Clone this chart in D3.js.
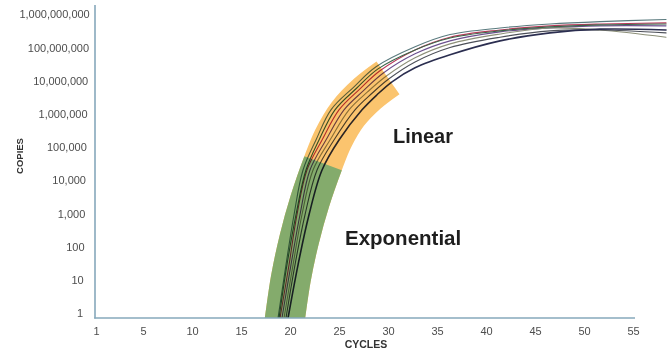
<!DOCTYPE html>
<html>
<head>
<meta charset="utf-8">
<script src="https://cdn.jsdelivr.net/npm/d3@7"></script>
<style>
  html, body { margin: 0; padding: 0; background: #fff; }
  svg { display: block; }
  text { font-family: "Liberation Sans", Arial, Helvetica, sans-serif; }
</style>
</head>
<body>
<svg id="chart" width="669" height="352"></svg>
<script>
// Axis ticks
const cycleTicks = [1, 5, 10, 15, 20, 25, 30, 35, 40, 45, 50, 55];
const copyTicks = [1, 10, 100, 1e3, 1e4, 1e5, 1e6, 1e7, 1e8, 1e9];

// Amplification runs: [cycle, copies]
const run1 = [[18.78,0.7],[19.59,28],[20.41,900],[21.33,2.0e4],[22.65,1.6e5],[24.18,1.3e6],[26.48,6.2e6],[28.78,2.57e7],[32.76,1.03e8],[36.33,2.4e8],[41.43,3.8e8],[46.53,5.0e8],[51.63,5.9e8],[58.37,6.8e8]];
const run2 = [[18.98,0.7],[19.90,28],[20.71,900],[21.73,2.0e4],[23.27,1.6e5],[25.00,1.3e6],[27.09,5.4e6],[29.18,1.95e7],[32.76,8.3e7],[36.33,2.0e8],[41.43,3.3e8],[46.53,4.4e8],[51.63,5.0e8],[58.37,5.4e8]];
const run3 = [[19.18,0.7],[20.10,28],[21.02,900],[22.04,2.0e4],[23.67,1.6e5],[25.51,1.3e6],[27.50,4.9e6],[29.49,1.64e7],[32.76,6.3e7],[36.33,1.55e8],[41.43,2.9e8],[46.53,3.8e8],[51.63,4.4e8],[58.37,4.4e8]];
const run4 = [[19.39,0.7],[20.31,28],[21.22,900],[22.35,2.0e4],[24.08,1.6e5],[26.02,1.3e6],[27.91,4.5e6],[29.80,1.33e7],[32.76,4.8e7],[36.33,1.26e8],[41.43,2.5e8],[46.53,3.8e8],[51.63,3.3e8],[58.37,2.0e8]];
const run5 = [[19.59,0.7],[20.51,28],[21.53,900],[22.76,2.0e4],[24.49,1.6e5],[26.63,1.3e6],[28.37,4.1e6],[30.10,1.12e7],[32.76,3.6e7],[36.33,9.8e7],[41.43,2.0e8],[46.53,3.1e8],[51.63,3.3e8],[58.37,2.7e8]];
const run6 = [[19.80,0.7],[20.82,28],[21.94,900],[23.27,2.0e4],[25.00,1.6e5],[27.35,1.3e6],[28.88,3.7e6],[30.41,9.1e6],[32.76,2.4e7],[36.33,5.9e7],[41.43,1.55e8],[46.53,2.7e8],[51.63,3.5e8],[58.37,3.3e8]];
const run7 = [[18.88,0.7],[19.69,28],[20.61,900],[21.63,2.0e4],[22.96,1.6e5],[24.59,1.3e6],[26.79,5.8e6],[28.98,2.23e7],[32.76,8.3e7],[36.33,1.9e8],[41.43,3.1e8],[46.53,4.1e8],[51.63,4.7e8],[58.37,5.0e8]];

const runs = [run1, run2, run3, run4, run5, run6, run7];
const runColors = ["#5a7a7e", "#b8395a", "#6b4f8e", "#8c8f78", "#4d5059", "#2b2e50", "#3a6448"];
const runWidths = [1.1, 1.1, 1.1, 1.1, 1.1, 1.6, 1.1];

// Phase band centre line: [cycle, copies]; split into exponential / linear
const phaseBand = [[19.32,0.31],[19.49,0.71],[20.09,10.9],[20.94,163],[22.03,2.33e3],[23.37,3.18e4],[24.39,1.74e5],[25.92,9.9e5],[27.86,3.95e6],[30.0,1.2e7]];
const phaseSplit = 3.18e4;
const phaseColors = { exponential: "#84ab6c", linear: "#fbc46e" };

const svg = d3.select("#chart");

const x = d3.scaleLinear().domain([1, 5, 55]).range([96, 143, 633]);
const y = d3.scaleLog().domain([0.7, 1e9]).range([318, 14]);

svg.append("defs").append("clipPath").attr("id", "plot")
  .append("rect").attr("x", 95).attr("y", 0).attr("width", 574).attr("height", 318);

const line = d3.line()
  .x(d => x(d[0]))
  .y(d => y(d[1]))
  .curve(d3.curveCatmullRom.alpha(0.5));

// Runs
const runsG = svg.append("g").attr("clip-path", "url(#plot)");
runsG.selectAll("path")
  .data(runs)
  .join("path")
  .attr("d", line)
  .attr("fill", "none")
  .attr("stroke", (d, i) => runColors[i])
  .attr("stroke-width", (d, i) => runWidths[i])
  .attr("stroke-linecap", "round");

// Phase bands, multiplied over the runs
const bandG = svg.append("g")
  .attr("clip-path", "url(#plot)")
  .style("mix-blend-mode", "multiply");

const linearBand = bandG.append("path")
  .attr("d", line(phaseBand))
  .attr("fill", "none")
  .attr("stroke", phaseColors.linear)
  .attr("stroke-width", 40)
  .attr("stroke-linecap", "butt");

const expBand = bandG.append("path")
  .attr("d", line(phaseBand))
  .attr("fill", "none")
  .attr("stroke", phaseColors.exponential)
  .attr("stroke-width", 40)
  .attr("stroke-linecap", "butt");

// length along the band up to the exponential/linear split
const node = expBand.node();
const total = node.getTotalLength();
const ySplit = y(phaseSplit);
let lo = 0, hi = total;
for (let k = 0; k < 40; k++) {
  const mid = (lo + hi) / 2;
  if (node.getPointAtLength(mid).y > ySplit) lo = mid; else hi = mid;
}
expBand.attr("stroke-dasharray", `${lo} ${total}`);

// Axis lines
svg.append("line")
  .attr("x1", 95).attr("x2", 95).attr("y1", 5).attr("y2", 318.5)
  .attr("stroke", "#86a8bb").attr("stroke-width", 1.6);
svg.append("line")
  .attr("x1", 94.2).attr("x2", 635).attr("y1", 318).attr("y2", 318)
  .attr("stroke", "#86a8bb").attr("stroke-width", 1.6);

// Y tick labels
const yAxis = svg.append("g")
  .attr("transform", "translate(83,0)")
  .call(d3.axisLeft(y).tickValues(copyTicks).tickFormat(d3.format(",")).tickSize(0).tickPadding(0));
yAxis.select(".domain").remove();
yAxis.selectAll("text")
  .attr("x", (d, i) => i * 0.75)
  .attr("dy", "0.35em")
  .attr("font-size", 11)
  .attr("font-family", "\"Liberation Sans\", Arial, sans-serif")
  .attr("fill", "#4d4d4d");

// X tick labels
const xAxis = svg.append("g")
  .attr("transform", "translate(0,327)")
  .call(d3.axisBottom(x).tickValues(cycleTicks).tickFormat(d3.format("d")).tickSize(0).tickPadding(0));
xAxis.select(".domain").remove();
xAxis.selectAll("text")
  .attr("y", 0)
  .attr("dy", "0.71em")
  .attr("font-size", 11)
  .attr("font-family", "\"Liberation Sans\", Arial, sans-serif")
  .attr("fill", "#4d4d4d");

// Axis titles
svg.append("text")
  .attr("transform", "translate(23,156) rotate(-90)")
  .attr("text-anchor", "middle")
  .attr("font-size", 9.5)
  .attr("font-weight", "bold")
  .attr("fill", "#333")
  .text("COPIES");

svg.append("text")
  .attr("x", 366).attr("y", 348)
  .attr("text-anchor", "middle")
  .attr("font-size", 10.5)
  .attr("font-weight", "bold")
  .attr("fill", "#333")
  .text("CYCLES");

// Phase labels
svg.append("text")
  .attr("x", 393).attr("y", 143)
  .attr("font-size", 20)
  .attr("font-weight", "bold")
  .attr("fill", "#1e1e1e")
  .text("Linear");

svg.append("text")
  .attr("x", 345).attr("y", 245)
  .attr("font-size", 20.5)
  .attr("font-weight", "bold")
  .attr("fill", "#1e1e1e")
  .text("Exponential");
</script>
</body>
</html>
